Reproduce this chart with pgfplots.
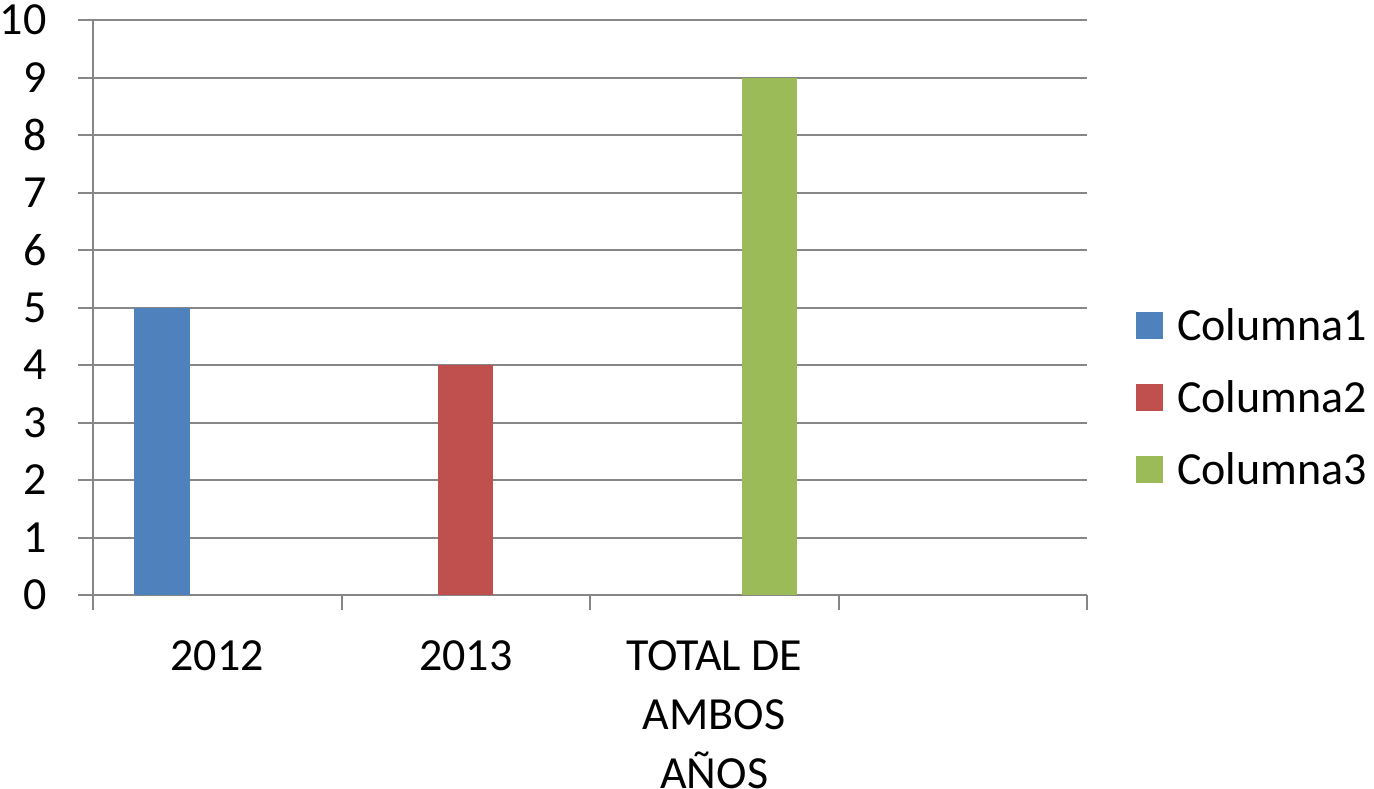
\documentclass[border=0pt]{standalone}
\usepackage{pgfplots}
\pgfplotsset{compat=1.18}
\usepackage{fontspec}
\setmainfont{Carlito}

\definecolor{colA}{RGB}{79,129,189}
\definecolor{colB}{RGB}{192,80,77}
\definecolor{colC}{RGB}{155,187,89}
\definecolor{gridgray}{RGB}{134,134,134}

\newcommand{\chartfont}{\fontsize{23}{29.5}\selectfont}

\begin{document}
\begin{tikzpicture}
\begin{axis}[
    name=ax,
    scale only axis,
    width=497pt, height=287.5pt,
    xmin=0, xmax=4,
    ymin=0, ymax=10,
    xtick={0,1,2,3,4},
    xticklabels={2012,2013,{TOTAL DE\\AMBOS\\AÑOS},{}},
    x tick label as interval,
    ytick={0,1,...,10},
    axis x line*=bottom,
    axis y line*=left,
    axis line style={gridgray, line width=1pt},
    ymajorgrids=true,
    grid style={gridgray, line width=1pt},
    tick align=outside,
    major tick length=7.5pt,
    tick style={gridgray, line width=1pt},
    /pgf/number format/assume math mode=true,
    tick label style={font=\chartfont, text=black},
    yticklabel style={inner sep=0pt, anchor=east, xshift=-15.5pt},
    xticklabel style={inner sep=0pt, anchor=north, yshift=-15pt, align=center},
    ybar,
    bar width=0.222,
    legend style={at={(1.049,0.343)}, anchor=west, draw=none, fill=none,
        font=\chartfont, inner sep=0pt, row sep=18.5pt,
        nodes={inner sep=0pt, anchor=west}},
    legend cell align=left,
    legend image code/.code={
        \path[#1, draw=none] (0pt,-6.75pt) rectangle (13.5pt,6.75pt);
        \path (20.5pt,0pt);},
]
\addplot[fill=colA, draw=none, bar shift=-0.222] coordinates {(0.5,5)};
\addlegendentry{Columna1}
\addplot[fill=colB, draw=none, bar shift=0] coordinates {(1.5,4)};
\addlegendentry{Columna2}
\addplot[fill=colC, draw=none, bar shift=0.222] coordinates {(2.5,9)};
\addlegendentry{Columna3}
\end{axis}
\pgfresetboundingbox
\useasboundingbox ([shift={(-46.5pt,-96.5pt)}]ax.south west) rectangle ([shift={(640.5pt,297.5pt)}]ax.south west);
\end{tikzpicture}
\end{document}
